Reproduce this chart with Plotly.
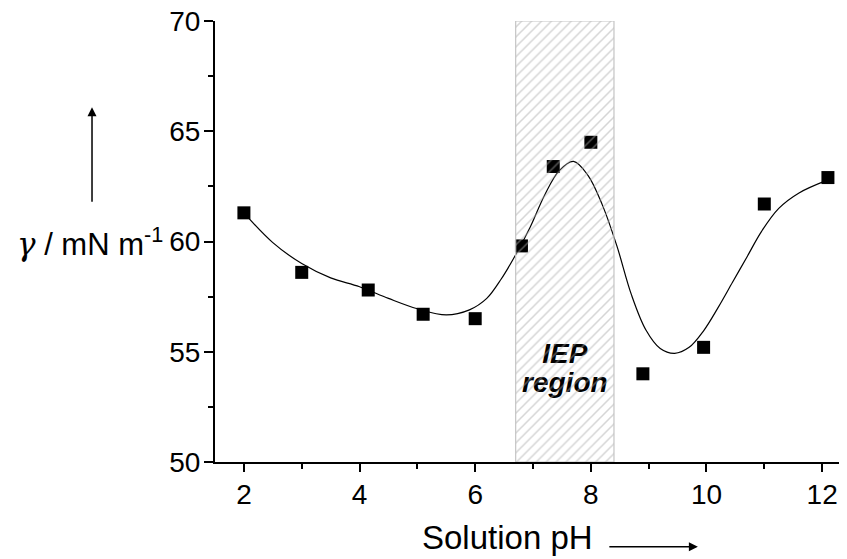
import plotly.graph_objects as go

# measured data (solution pH vs surface tension)
ph = [2.0, 3.0, 4.15, 5.1, 6.0, 6.8, 7.35, 8.0, 8.9, 9.95, 11.0, 12.1]
gamma = [61.3, 58.6, 57.8, 56.7, 56.5, 59.8, 63.4, 64.5, 54.0, 55.2, 61.7, 62.9]

# smooth guide curve
curve_ph = [2.0, 2.5, 3.0, 3.5, 4.0, 4.5, 5.0, 5.5, 5.9, 6.2, 6.45, 6.7, 6.95, 7.2,
            7.45, 7.7, 7.95, 8.2, 8.45, 8.7, 8.95, 9.2, 9.45, 9.7, 9.95, 10.2, 10.45,
            10.7, 10.95, 11.25, 11.6, 12.08]
curve_gamma = [61.3, 59.95, 59.0, 58.35, 57.95, 57.42, 56.95, 56.67, 56.9, 57.42, 58.3,
               59.4, 60.65, 62.1, 63.2, 63.63, 63.0, 61.65, 59.8, 57.6, 56.0, 55.15,
               54.93, 55.2, 55.95, 57.0, 58.15, 59.3, 60.45, 61.5, 62.2, 62.77]

# isoelectric point region
iep_low, iep_high = 6.7, 8.4
y_min, y_max = 50, 70

FONT = "Liberation Sans, Arial, sans-serif"

fig = go.Figure()

fig.add_trace(go.Scatter(
    x=curve_ph, y=curve_gamma, mode="lines",
    line=dict(color="black", width=1.2, shape="spline", smoothing=1.0),
    hoverinfo="skip", showlegend=False))

fig.add_trace(go.Scatter(
    x=ph, y=gamma, mode="markers",
    marker=dict(symbol="square", size=13, color="black"),
    showlegend=False))

label_font = dict(family=FONT, size=28, color="black", style="italic", weight="bold")
fig.add_trace(go.Scatter(
    x=[(iep_low + iep_high) / 2], y=[54.8], mode="text", text=["IEP"],
    textposition="middle center", textfont=label_font,
    hoverinfo="skip", showlegend=False))
fig.add_trace(go.Scatter(
    x=[(iep_low + iep_high) / 2], y=[53.5], mode="text", text=["region"],
    textposition="middle center", textfont=label_font,
    hoverinfo="skip", showlegend=False))

fig.add_trace(go.Scatter(
    x=[iep_low, iep_high, iep_high, iep_low, iep_low],
    y=[y_min, y_min, y_max, y_max, y_min],
    mode="lines", fill="toself", fillcolor="rgba(0,0,0,0)",
    line=dict(color="#c4c4c4", width=1.2),
    fillpattern=dict(shape="/", fgcolor="#ababab", bgcolor="rgba(0,0,0,0)",
                     size=7, solidity=0.22, fillmode="overlay"),
    hoverinfo="skip", showlegend=False))

# the page body adds an 8px offset, so margins are reduced accordingly
fig.update_layout(
    width=847, height=559,
    margin=dict(l=207, r=8, t=13, b=105, autoexpand=False),
    paper_bgcolor="white", plot_bgcolor="white",
    font=dict(family=FONT, color="black"),
    xaxis=dict(range=[1.5, 12.43], tick0=0, dtick=2, ticks="outside", ticklen=8,
               tickwidth=2, tickcolor="black", showline=True, linewidth=2,
               linecolor="black", showgrid=False, zeroline=False, automargin=False,
               tickfont=dict(family=FONT, size=28, color="black"),
               ticklabelstandoff=-2, ticklabeloverflow="allow",
               minor=dict(dtick=1, tick0=0, ticks="outside", ticklen=5, tickwidth=2,
                          tickcolor="black", showgrid=False)),
    yaxis=dict(range=[y_min, y_max], tick0=0, dtick=5, ticks="outside", ticklen=9,
               tickwidth=2, tickcolor="black", showline=True, linewidth=2,
               linecolor="black", showgrid=False, zeroline=False, automargin=False,
               tickfont=dict(family=FONT, size=28, color="black"),
               ticklabelstandoff=-2, ticklabeloverflow="allow",
               minor=dict(dtick=2.5, tick0=0, ticks="outside", ticklen=5, tickwidth=2,
                          tickcolor="black", showgrid=False)),
    annotations=[
        dict(text="Solution pH", xref="paper", yref="paper", x=0.4636, y=-0.172,
             xanchor="center", yanchor="middle", showarrow=False,
             font=dict(family=FONT, size=33, color="black")),
        dict(text="<span style='font-family:DejaVu Serif;font-style:italic'>γ</span>"
                  " / mN m<sup>-1</sup>",
             xref="paper", yref="y", x=0, y=60,
             xanchor="right", yanchor="middle", xshift=-50, showarrow=False,
             font=dict(family=FONT, size=31, color="black")),
        dict(text="", xref="paper", yref="paper", x=-0.1946, y=0.8046,
             ax=0, ay=96, showarrow=True,
             arrowhead=2, arrowsize=1.2, arrowwidth=1.5, arrowcolor="black"),
        dict(text="", xref="paper", yref="paper", x=0.764, y=-0.192,
             ax=-90, ay=0, showarrow=True,
             arrowhead=2, arrowsize=1.2, arrowwidth=1.5, arrowcolor="black"),
    ],
)

fig.write_html("out.html")
